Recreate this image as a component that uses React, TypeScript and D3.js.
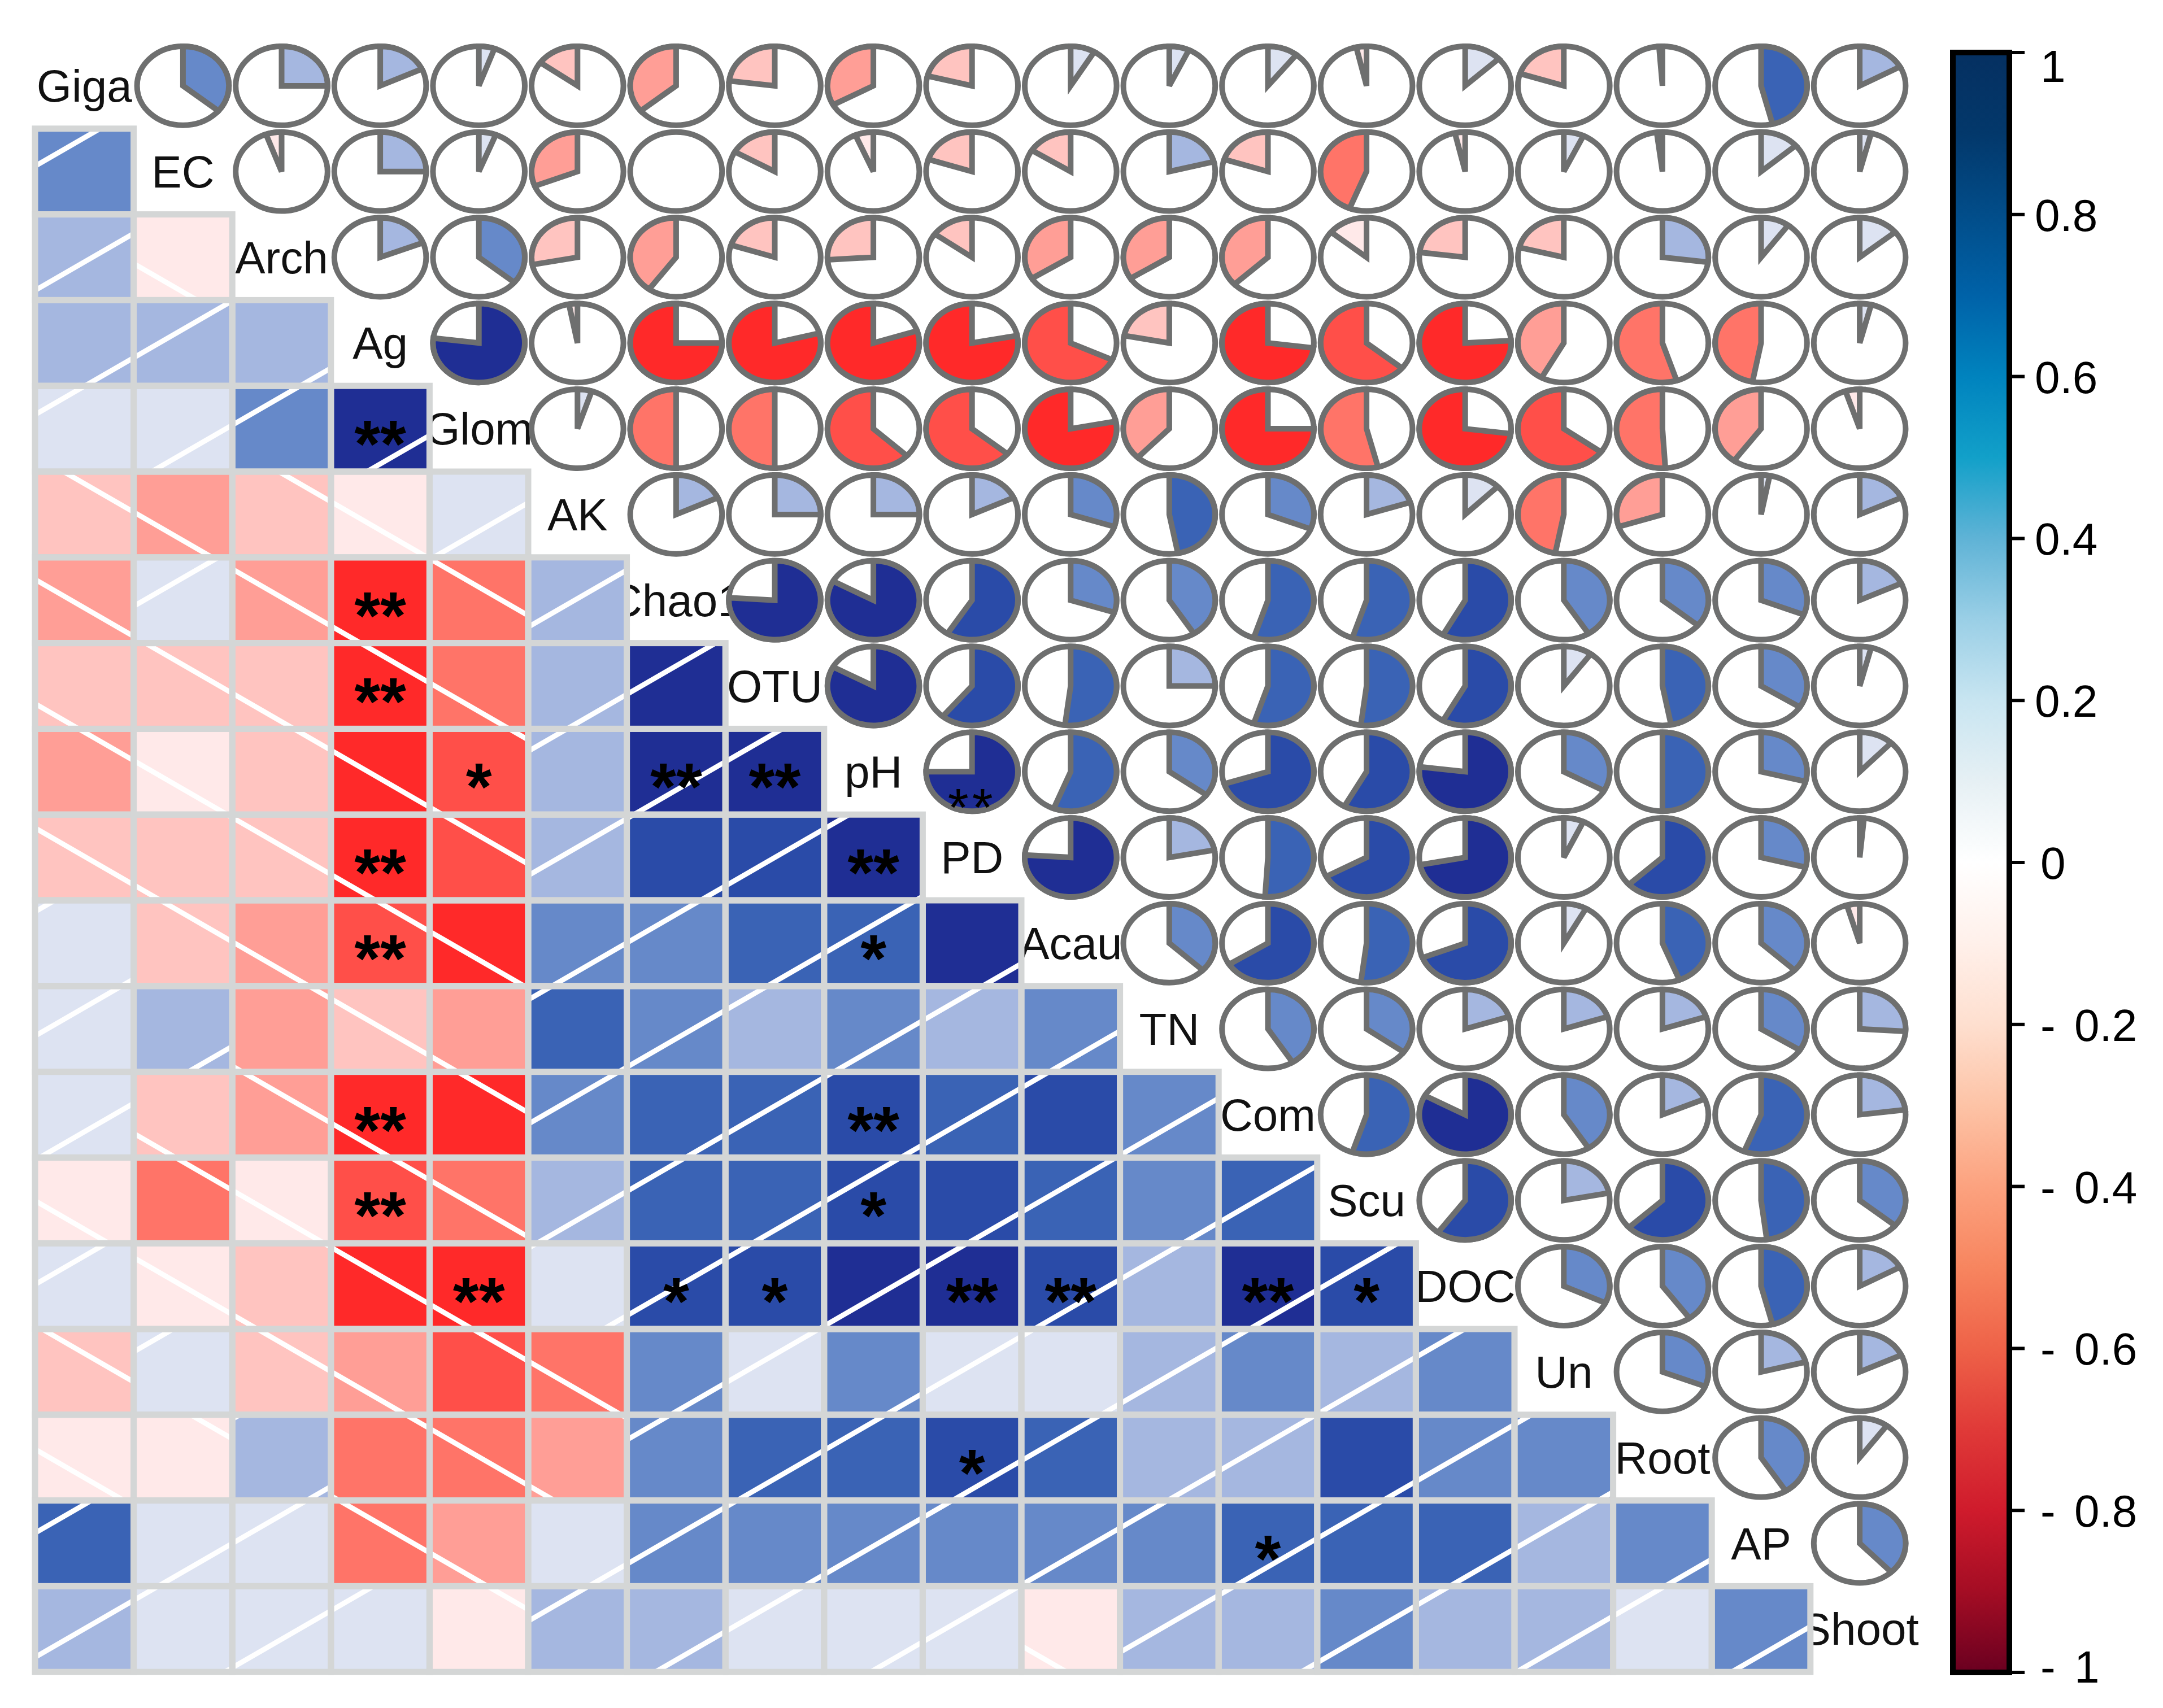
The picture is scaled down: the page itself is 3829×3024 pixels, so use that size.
import React from 'react';
import * as d3 from 'd3';

// ---------------- DATA ----------------
const vars = ['Giga', 'EC', 'Arch', 'Ag', 'Glom', 'AK', 'Chao1', 'OTU', 'pH', 'PD', 'Acau', 'TN', 'Com', 'Scu', 'DOC', 'Un', 'Root', 'AP', 'Shoot'];

// correlations of each variable with the variables that follow it
const rGiga = [0.36, 0.25, 0.18, 0.055, -0.15, -0.36, -0.23, -0.33, -0.21, 0.086, 0.07, 0.106, -0.036, 0.13, -0.2, -0.012, 0.46, 0.17];
const rEC = [-0.055, 0.25, 0.06, -0.31, 0.004, -0.167, -0.064, -0.2, -0.16, 0.21, -0.2, -0.44, -0.036, 0.07, -0.02, 0.136, 0.04];
const rArch = [0.19, 0.36, -0.28, -0.4, -0.2, -0.26, -0.15, -0.34, -0.34, -0.37, -0.14, -0.23, -0.21, 0.27, 0.1, 0.14];
const rAg = [0.77, -0.03, -0.75, -0.79, -0.8, -0.78, -0.68, -0.22, -0.73, -0.64, -0.76, -0.42, -0.55, -0.47, 0.04];
const rGlom = [0.05, -0.5, -0.5, -0.63, -0.64, -0.78, -0.38, -0.75, -0.54, -0.73, -0.65, -0.51, -0.4, -0.05];
const rAK = [0.18, 0.25, 0.25, 0.18, 0.3, 0.47, 0.31, 0.2, 0.125, -0.47, -0.3, 0.03, 0.18];
const rChao1 = [0.76, 0.83, 0.59, 0.3, 0.41, 0.55, 0.55, 0.58, 0.41, 0.36, 0.31, 0.18];
const rOTU = [0.83, 0.61, 0.52, 0.25, 0.55, 0.52, 0.58, 0.1, 0.47, 0.34, 0.04];
const rpH = [0.75, 0.56, 0.35, 0.7, 0.58, 0.77, 0.33, 0.5, 0.29, 0.12];
const rPD = [0.76, 0.22, 0.51, 0.67, 0.72, 0.07, 0.63, 0.29, 0.015];
const rAcau = [0.37, 0.66, 0.52, 0.69, 0.08, 0.44, 0.37, -0.045];
const rTN = [0.41, 0.35, 0.2, 0.2, 0.2, 0.34, 0.26];
const rCom = [0.55, 0.83, 0.41, 0.185, 0.56, 0.23];
const rScu = [0.6, 0.22, 0.63, 0.48, 0.36];
const rDOC = [0.32, 0.4, 0.46, 0.17];
const rUn = [0.31, 0.21, 0.18];
const rRoot = [0.41, 0.1];
const rAP = [0.38];

// significance marks in the lower triangle: [row variable, column variable, mark]
const sigLower: [string, string, string][] = [
  ['Glom', 'Ag', '**'], ['Chao1', 'Ag', '**'], ['OTU', 'Ag', '**'],
  ['pH', 'Glom', '*'], ['pH', 'Chao1', '**'], ['pH', 'OTU', '**'],
  ['PD', 'Ag', '**'], ['PD', 'pH', '**'],
  ['Acau', 'Ag', '**'], ['Acau', 'pH', '*'],
  ['Com', 'Ag', '**'], ['Com', 'pH', '**'],
  ['Scu', 'Ag', '**'], ['Scu', 'pH', '*'],
  ['DOC', 'Glom', '**'], ['DOC', 'Chao1', '*'], ['DOC', 'OTU', '*'], ['DOC', 'PD', '**'],
  ['DOC', 'Acau', '**'], ['DOC', 'Com', '**'], ['DOC', 'Scu', '*'],
  ['Root', 'PD', '*'], ['AP', 'Com', '*'],
];
// mark drawn inside a pie of the upper triangle
const sigUpper: [string, string, string][] = [['pH', 'PD', '**']];

const colorbarTicks = [1, 0.8, 0.6, 0.4, 0.2, 0, -0.2, -0.4, -0.6, -0.8, -1];

const blueShades = ['#DDE3F2', '#A5B7E0', '#6689C9', '#3A63B5', '#2A4BA8', '#1F2E94'];
const redShades = ['#FFE9E9', '#FFC4C0', '#FF9E96', '#FF7468', '#FF4F49', '#FF2929'];

const gradientValues = [1, 0.9, 0.7, 0.6, 0.5, 0.4, 0.3, 0.2, 0.1, 0, -0.1, -0.2, -0.3, -0.4, -0.5, -0.6, -0.7, -0.8, -0.9, -1];
const gradientColors = ['#053061', '#03386B', '#0062A8', '#0083BE', '#12A0C9', '#5FB3D6', '#9ACFE6', '#C8E5F1', '#E6F0F4', '#FFFFFF', '#FFF0EA', '#FEDFCF', '#FDC3A6', '#FCA27F', '#F7855F', '#EE6248', '#E03A38', '#CF1B2C', '#A40D24', '#6A0020'];

// ---------------- HELPERS ----------------
const rows = [rGiga, rEC, rArch, rAg, rGlom, rAK, rChao1, rOTU, rpH, rPD, rAcau, rTN, rCom, rScu, rDOC, rUn, rRoot, rAP];
function corr(i: number, j: number): number {
  if (i === j) return 1;
  const a = Math.min(i, j);
  const b = Math.max(i, j);
  return rows[a][b - a - 1];
}
function shade(r: number): string {
  const bin = Math.min(5, Math.floor(Math.abs(r) * 7));
  return r >= 0 ? blueShades[bin] : redShades[bin];
}

const W = 3829;
const H = 3024;
const left = 62;
const top = 76;
const cw = 174.6;
const ch = 151.8;

const x = d3.scaleBand<string>().domain(vars).range([left, left + vars.length * cw]).padding(0);
const y = d3.scaleBand<string>().domain(vars).range([top, top + vars.length * ch]).padding(0);
const cbY = d3.scaleLinear().domain([1, -1]).range([93, 2961]);

const FONT = '"Liberation Sans", Arial, sans-serif';
const GRID = '#D4D6D6';
const PIE_STROKE = '#6E6F6F';

const arcGen = d3.arc<any>().innerRadius(0).outerRadius(1);

export default function App() {
  const n = vars.length;
  const lower: { i: number; j: number; r: number }[] = [];
  const upper: { i: number; j: number; r: number }[] = [];
  for (let i = 0; i < n; i++) {
    for (let j = 0; j < n; j++) {
      if (i > j) lower.push({ i, j, r: corr(i, j) });
      if (i < j) upper.push({ i, j, r: corr(i, j) });
    }
  }
  const bw = x.bandwidth();
  const bh = y.bandwidth();
  const rx = 0.5 * bw - 6;
  const ry = 0.5 * bh - 6;
  const hatchP = 220 * Math.cos(Math.PI / 6);

  return (
    <svg width={W} height={H} viewBox={`0 0 ${W} ${H}`} style={{ position: 'absolute', left: 0, top: 0, display: 'block', background: '#fff' }}>
      <defs>
        <pattern id="hatchNeg" patternUnits="userSpaceOnUse" width={40} height={hatchP} patternTransform="rotate(30)">
          <line x1={-5} x2={45} y1={hatchP / 2} y2={hatchP / 2} stroke="#fff" strokeWidth={9} />
        </pattern>
        <pattern id="hatchPos" patternUnits="userSpaceOnUse" width={40} height={hatchP} patternTransform="rotate(-30)">
          <line x1={-5} x2={45} y1={hatchP / 2} y2={hatchP / 2} stroke="#fff" strokeWidth={9} />
        </pattern>
        <linearGradient id="cbGrad" x1="0" y1="0" x2="0" y2="1">
          {gradientValues.map((v, k) => (
            <stop key={k} offset={(1 - v) / 2} stopColor={gradientColors[k]} />
          ))}
        </linearGradient>
      </defs>

      {/* diagonal labels */}
      {vars.map((v) => (
        <text key={v} x={x(v)! + bw / 2} y={y(v)! + bh / 2 + 28} textAnchor="middle" fontFamily={FONT} fontSize={80} fill="#111">
          {v}
        </text>
      ))}

      {/* lower triangle: shaded squares */}
      {lower.map(({ i, j, r }) => (
        <g key={`l${i}-${j}`}>
          <rect x={x(vars[j])} y={y(vars[i])} width={bw} height={bh} fill={shade(r)} />
          <rect x={x(vars[j])} y={y(vars[i])} width={bw} height={bh} fill={r >= 0 ? 'url(#hatchPos)' : 'url(#hatchNeg)'} />
        </g>
      ))}
      {lower.map(({ i, j }) => (
        <rect key={`g${i}-${j}`} x={x(vars[j])} y={y(vars[i])} width={bw} height={bh} fill="none" stroke={GRID} strokeWidth={11} />
      ))}
      {sigLower.map(([a, b, m]) => (
        <text key={`s${a}-${b}`} x={x(b)! + bw / 2} y={y(a)! + bh / 2 + 68} textAnchor="middle" fontFamily={FONT} fontWeight="bold" fontSize={118} fill="#000">
          {m}
        </text>
      ))}

      {/* upper triangle: pies */}
      {upper.map(({ i, j, r }) => {
        const cx = x(vars[j])! + bw / 2;
        const cy = y(vars[i])! + bh / 2;
        const ang = 2 * Math.PI * Math.abs(r);
        const d = arcGen({ startAngle: r >= 0 ? 0 : -ang, endAngle: r >= 0 ? ang : 0 });
        return (
          <g key={`p${i}-${j}`}>
            <ellipse cx={cx} cy={cy} rx={rx} ry={ry} fill="#fff" stroke={PIE_STROKE} strokeWidth={10} />
            {Math.abs(r) > 0.005 && (
              <path d={d || ''} transform={`translate(${cx},${cy}) scale(${rx},${ry})`} fill={shade(r)} stroke={PIE_STROKE} strokeWidth={10} vectorEffect="non-scaling-stroke" strokeLinejoin="miter" />
            )}
          </g>
        );
      })}
      {sigUpper.map(([a, b, m]) => (
        <text key={`u${a}-${b}`} x={x(b)! + bw / 2} y={y(a)! + bh / 2 + 41 + 55} textAnchor="middle" fontFamily={FONT} fontSize={95} letterSpacing={6} fill="#000">
          {m}
        </text>
      ))}

      {/* colour bar */}
      <rect x={3457} y={cbY(1)} width={100} height={cbY(-1) - cbY(1)} fill="url(#cbGrad)" stroke="#000" strokeWidth={10} />
      {colorbarTicks.map((v) => {
        const ty = cbY(v);
        const ly = Math.min(2950, Math.max(116, ty)) + 29;
        return (
          <g key={`t${v}`}>
            <line x1={3557} x2={3584} y1={ty} y2={ty} stroke="#000" strokeWidth={6} />
            {v < 0 ? (
              <>
                <text x={3612} y={ly} fontFamily={FONT} fontSize={80} fill="#000">-</text>
                <text x={3672} y={ly} fontFamily={FONT} fontSize={80} fill="#000">{d3.format('')(Math.abs(v))}</text>
              </>
            ) : (
              <text x={v === 0 || v === 1 ? 3612 : 3602} y={ly} fontFamily={FONT} fontSize={80} fill="#000">{d3.format('')(v)}</text>
            )}
          </g>
        );
      })}
    </svg>
  );
}
